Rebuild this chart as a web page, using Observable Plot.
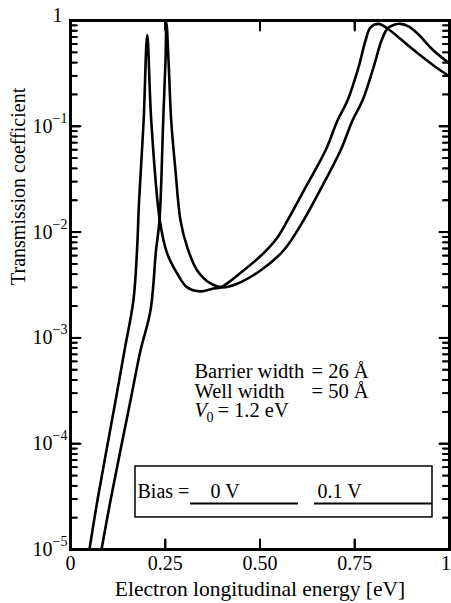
<!DOCTYPE html>
<html><head><meta charset="utf-8">
<script src="https://cdn.jsdelivr.net/npm/d3@7"></script>
<script src="https://cdn.jsdelivr.net/npm/@observablehq/plot@0.6"></script>
<style>body{margin:0;background:#fff}#chart{width:451px;height:603px}</style>
</head><body><div id="chart"></div>
<script>
// Bias = 0 V (right-hand curve)
const energy0V = [0.0818,0.1055,0.1583,0.1847,0.2111,0.2256,0.2348,0.2446,0.2507,0.2533,0.2586,0.2657,0.277,0.2902,0.3079,0.3343,0.3694,0.401,0.4398,0.5013,0.562,0.6148,0.6649,0.7124,0.744,0.7704,0.7995,0.8206,0.8364,0.8522,0.8707,0.8918,0.9156,0.9578,1.0];
const trans0V  = [1.0e-5,2.9e-5,2.56e-4,7.6e-4,1.82e-3,6.7e-3,0.0129,0.1135,0.42,0.95,0.42,0.1135,0.0382,0.0129,7.2e-3,4.34e-3,3.27e-3,3.0e-3,3.25e-3,4.34e-3,6.7e-3,0.0129,0.0275,0.059,0.1135,0.175,0.36,0.647,0.84,0.907,0.93,0.878,0.753,0.52,0.392];
// Bias = 0.1 V (left-hand curve)
const energy01V = [0.050,0.071,0.119,0.1425,0.166,0.1755,0.181,0.193,0.2024,0.213,0.2356,0.255,0.2815,0.308,0.343,0.377,0.396,0.4565,0.509,0.546,0.5726,0.6227,0.6728,0.7045,0.7309,0.7599,0.7784,0.7916,0.8127,0.8364,0.8971,0.9578,1.0];
const trans01V  = [1.0e-5,2.9e-5,2.56e-4,7.6e-4,2.26e-3,6.7e-3,1.99e-2,0.114,0.73,0.114,0.0129,6.3e-3,4.06e-3,3.0e-3,2.75e-3,2.93e-3,3.0e-3,4.34e-3,6.3e-3,8.9e-3,0.0129,0.0275,0.059,0.1135,0.175,0.36,0.647,0.859,0.93,0.84,0.556,0.376,0.296];

const xTicks = [0,0.25,0.5,0.75,1];
const xTickLabels = ["0","0.25","0.50","0.75","1"];
const yDecades = [1,1e-1,1e-2,1e-3,1e-4,1e-5];
const yTickBase = ["1","10","10","10","10","10"];
const yTickExp = ["","\u22121","\u22122","\u22123","\u22124","\u22125"];
const xLabel = "Electron longitudinal energy [eV]";
const yLabel = "Transmission coefficient";
const noteNames = ["Barrier width","Well width"];
const noteValues = ["= 26 \u00C5","= 50 \u00C5"];
const legendTitle = "Bias =";
const legendNames = ["0 V","0.1 V"];

const series0 = energy0V.map((e,i)=>({e, t: trans0V[i]}));
const series01 = energy01V.map((e,i)=>({e, t: trans01V[i]}));
const yMinor = [];
for (const d of yDecades.slice(1)) for (let k=2;k<=9;k++) yMinor.push(d*k);
const yTicks = yDecades.map((v,i)=>({v, base: yTickBase[i], exp: yTickExp[i]}));
const xTickObjs = xTicks.map((v,i)=>({v, label: xTickLabels[i]}));
const innerX = xTicks.slice(1,-1);
const innerY = yDecades.slice(1,-1);

const W = 451, H = 603, mL = 70, mR = 2, mT = 20, mB = 54;
const fw = W - mL - mR, fh = H - mT - mB;
const major = 10, minor = 6.5;

const serif = "'Liberation Serif','Times New Roman',Times,serif";
const noteX = 0.327, noteEqX = 0.636;
const noteY = [4.22e-4, 2.73e-4, 1.77e-4];
const tk = {anchor: "start", r: 0.01};

const plot = Plot.plot({
  width: W, height: H,
  marginLeft: mL, marginRight: mR, marginTop: mT, marginBottom: mB,
  x: {domain: [0,1], axis: null},
  y: {type: "log", domain: [1e-5, 1], axis: null},
  style: {fontFamily: serif, fontSize: "20px", color: "black", background: "white"},
  marks: [
    // inward ticks: rules inset to tick length
    Plot.ruleX(innerX, {insetTop: fh - major, strokeWidth: 2}),
    Plot.ruleX(innerX, {insetBottom: fh - major, strokeWidth: 2}),
    Plot.ruleY(innerY, {insetRight: fw - major, strokeWidth: 2}),
    Plot.ruleY(innerY, {insetLeft: fw - major, strokeWidth: 2}),
    Plot.ruleY(yMinor, {insetRight: fw - minor, strokeWidth: 1.8}),
    Plot.ruleY(yMinor, {insetLeft: fw - minor, strokeWidth: 1.8}),
    // same ticks as plain vectors (no visible arrowhead)
    Plot.vectorX(innerX, {...tk, frameAnchor: "bottom", length: major, rotate: 0, strokeWidth: 2}),
    Plot.vectorX(innerX, {...tk, frameAnchor: "top", length: major, rotate: 180, strokeWidth: 2}),
    Plot.vectorY(innerY, {...tk, frameAnchor: "left", length: major, rotate: 90, strokeWidth: 2}),
    Plot.vectorY(innerY, {...tk, frameAnchor: "right", length: major, rotate: -90, strokeWidth: 2}),
    Plot.vectorY(yMinor, {...tk, frameAnchor: "left", length: minor, rotate: 90, strokeWidth: 1.8}),
    Plot.vectorY(yMinor, {...tk, frameAnchor: "right", length: minor, rotate: -90, strokeWidth: 1.8}),
    Plot.line(series0, {x: "e", y: "t", curve: "catmull-rom", stroke: "black", strokeWidth: 2.6}),
    Plot.line(series01, {x: "e", y: "t", curve: "catmull-rom", stroke: "black", strokeWidth: 2.6}),
    Plot.frame({strokeWidth: 3}),
    // x tick labels
    Plot.text(xTickObjs.slice(0,-1), {x: "v", frameAnchor: "bottom", dy: 14, text: "label", lineAnchor: "middle"}),
    Plot.text(xTickObjs.slice(-1), {x: "v", frameAnchor: "bottom", dy: 14, dx: 1.5, text: "label", textAnchor: "end", lineAnchor: "middle"}),
    // y tick labels
    Plot.text(yTicks.filter(d=>d.exp===""), {y: "v", frameAnchor: "left", text: "base", textAnchor: "end", dx: -8, dy: -5}),
    Plot.text(yTicks.filter(d=>d.exp!==""), {y: "v", frameAnchor: "left", text: "base", textAnchor: "end", dx: -18}),
    Plot.text(yTicks.filter(d=>d.exp!==""), {y: "v", frameAnchor: "left", text: "exp", textAnchor: "start", dx: -18, dy: -8, fontSize: 14}),
    // axis titles
    Plot.text([xLabel], {frameAnchor: "bottom", dy: 40, text: d=>d, lineAnchor: "middle", fontSize: 21.5}),
    Plot.text([yLabel], {frameAnchor: "left", dx: -52, rotate: -90, text: d=>d, lineAnchor: "middle"}),
    // notes
    Plot.text(noteNames, {x: () => noteX, y: (d,i)=>noteY[i], text: d=>d, textAnchor: "start", lineAnchor: "bottom", fontSize: 20.5}),
    Plot.text(noteValues, {x: () => noteEqX, y: (d,i)=>noteY[i], text: d=>d, textAnchor: "start", lineAnchor: "bottom", fontSize: 20.5}),
    Plot.text(["V"], {x: () => noteX, y: () => noteY[2], text: d=>d, textAnchor: "start", lineAnchor: "bottom", fontStyle: "italic", fontSize: 20.5}),
    Plot.text(["0"], {x: () => noteX, y: () => noteY[2], text: d=>d, textAnchor: "start", lineAnchor: "bottom", dx: 12, dy: 5, fontSize: 14}),
    Plot.text(["= 1.2 eV"], {x: () => noteX, y: () => noteY[2], text: d=>d, textAnchor: "start", lineAnchor: "bottom", dx: 23, fontSize: 20.5}),
    // legend
    Plot.rect([{x1: 0.1715, x2: 0.9551, y1: 6.09e-5, y2: 2.01e-5}], {x1: "x1", x2: "x2", y1: "y1", y2: "y2", fill: "white", stroke: "black", strokeWidth: 1.5}),
    Plot.ruleY([2.72e-5], {x1: () => 0.3166, x2: () => 0.6016, strokeWidth: 1.8}),
    Plot.ruleY([2.72e-5], {x1: () => 0.6438, x2: () => 0.9551, strokeWidth: 1.8}),
    Plot.text([legendTitle], {x: () => 0.1768, y: () => 3.10e-5, text: d=>d, textAnchor: "start", lineAnchor: "bottom"}),
    Plot.text(legendNames, {x: (d,i)=>[0.3694, 0.6517][i], y: () => 3.10e-5, text: d=>d, textAnchor: "start", lineAnchor: "bottom"})
  ]
});
document.getElementById("chart").appendChild(plot);
</script>
</body></html>
